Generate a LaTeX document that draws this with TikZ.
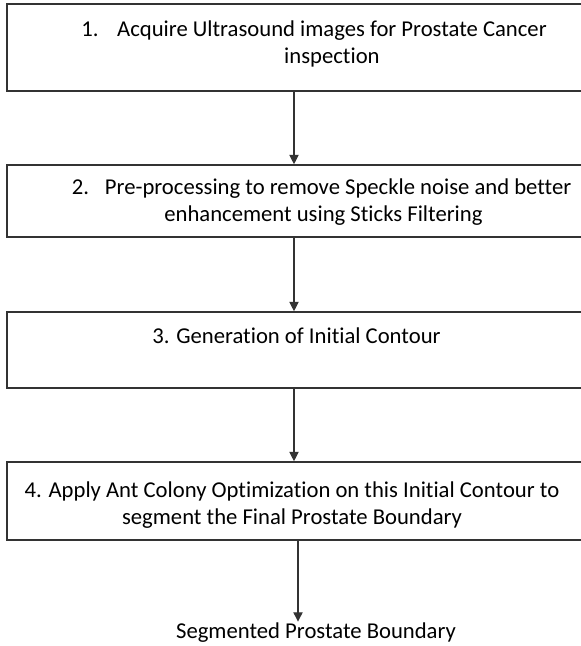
\documentclass[tikz,border=0pt]{standalone}
\usepackage{fontspec}
\setmainfont{Carlito}[Ligatures=NoCommon]
\usetikzlibrary{arrows.meta}
\tikzset{
	stepbox/.style={draw=black!80,line width=1.2pt,minimum width=441pt},
	steptext/.style={inner sep=1pt,font=\fontsize{17}{20.25}\selectfont},
	flow/.style={draw=black!80,line width=0.8pt,-{Triangle[width=7pt,length=7pt]}}
}
\begin{document}
\begin{tikzpicture}[x=0.75pt,y=-0.75pt]
\useasboundingbox (0,0) rectangle (581,646);
% boxes
\node[stepbox,minimum height=65.25pt] (b1) at (301,47.5) {};
\node[stepbox,minimum height=54pt] (b2) at (301,201) {};
\node[stepbox,minimum height=57pt] (b3) at (301,350) {};
\node[stepbox,minimum height=58.5pt] (b4) at (301,501) {};
% texts
\node[steptext] (t1) at (314,44.5) {\begin{tabular}{@{}l@{\hspace{14pt}}c@{}}
	1. & Acquire Ultrasound images for Prostate Cancer\\
	 & inspection\end{tabular}};
\node[steptext] (t2) at (321.5,202.5) {\begin{tabular}{@{}l@{\hspace{12pt}}c@{}}
	2. & Pre-processing to remove Speckle noise and better\\
	 & \hspace*{-22pt}enhancement using Sticks Filtering\end{tabular}};
\node[steptext] (t3) at (296.5,336) {3. Generation of Initial Contour};
\node[steptext,align=center] (t4) at (292,505) {4. Apply Ant Colony Optimization on this Initial Contour to\\
	segment the Final Prostate Boundary};
\node[steptext] (t5) at (316,633) {Segmented Prostate Boundary};
% arrows
\coordinate (ax) at (294,0);
\coordinate (ax2) at (298,0);
\draw[flow] (ax |- b1.south) -- (ax |- b2.north);
\draw[flow] (ax |- b2.south) -- (ax |- b3.north);
\draw[flow] (ax |- b3.south) -- (ax |- b4.north);
\draw[flow] (ax2 |- b4.south) -- (ax2 |- t5.north);
\end{tikzpicture}
\end{document}
